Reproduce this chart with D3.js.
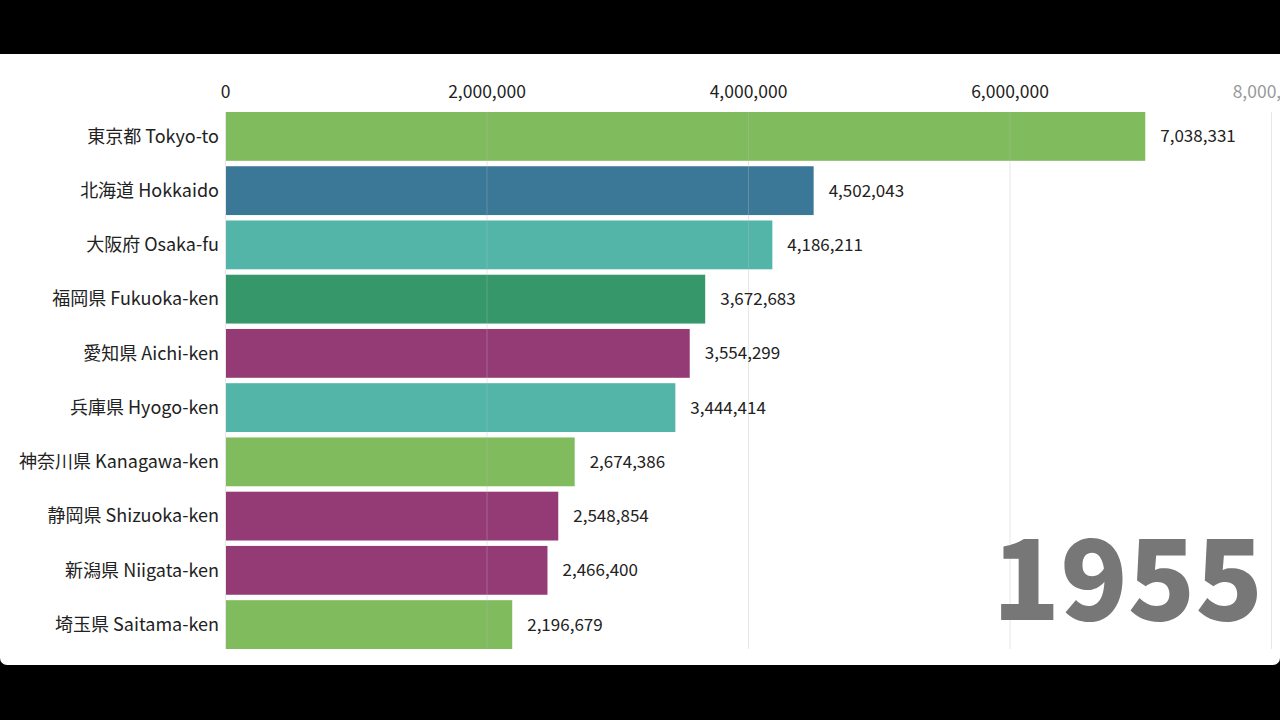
<!DOCTYPE html>
<html>
<head>
<meta charset="utf-8">
<script src="https://cdn.jsdelivr.net/npm/d3@7"></script>
<style>
  body { margin: 0; background: #000; overflow: hidden; }
  svg { display: block; }
  text { font-family: "Noto Sans CJK JP", "Noto Sans", sans-serif; }
</style>
</head>
<body>
<svg id="chart" width="1280" height="720"></svg>
<script>
// Data: prefecture population, year 1955 (top 10)
const year = "1955";
const prefectures = [
    "東京都 Tokyo-to", "北海道 Hokkaido", "大阪府 Osaka-fu", "福岡県 Fukuoka-ken",
    "愛知県 Aichi-ken", "兵庫県 Hyogo-ken", "神奈川県 Kanagawa-ken",
    "静岡県 Shizuoka-ken", "新潟県 Niigata-ken", "埼玉県 Saitama-ken"
];
const population = [7038331, 4502043, 4186211, 3672683, 3554299, 3444414, 2674386, 2548854, 2466400, 2196679];
const regions = ["Kanto", "Hokkaido", "Kinki", "Kyushu", "Chubu", "Kinki", "Kanto", "Chubu", "Chubu", "Kanto"];
const tickValues = [0, 2000000, 4000000, 6000000, 8000000];

const regionNames = ["Kanto", "Hokkaido", "Kinki", "Kyushu", "Chubu"];
const regionColors = ["#80bb5e", "#3b7797", "#53b4a8", "#36986a", "#943b75"];

const dimensions = {
    width: 1280,
    height: 720,
    card: { top: 54, bottom: 665 },
    margin: { top: 112, right: 9, bottom: 71, left: 225 }
};

const data = prefectures.map((name, i) => ({ name: name, value: population[i], region: regions[i] }));

var svg = d3.select("#chart");

// white card
svg.append("rect")
    .attr("x", 0)
    .attr("y", dimensions.card.top - 10)
    .attr("width", dimensions.width)
    .attr("height", dimensions.card.bottom - dimensions.card.top + 10)
    .attr("rx", 7)
    .attr("fill", "#fff");
svg.append("rect")
    .attr("x", 0)
    .attr("y", 0)
    .attr("width", dimensions.width)
    .attr("height", dimensions.card.top)
    .attr("fill", "#000");

var xScale = d3.scaleLinear()
    .domain([0, 8000000])
    .range([dimensions.margin.left, dimensions.width - dimensions.margin.right]);

var yScale = d3.scaleBand()
    .domain(prefectures)
    .range([dimensions.margin.top, dimensions.height - dimensions.margin.bottom])
    .paddingInner(0.1)
    .paddingOuter(0);

var colorScale = d3.scaleOrdinal()
    .domain(regionNames)
    .range(regionColors);

// bars
svg.selectAll(".bar")
    .data(data)
    .enter()
    .append("rect")
    .attr("class", "bar")
    .attr("x", xScale(0) + 1)
    .attr("y", d => yScale(d.name))
    .attr("width", d => xScale(d.value) - xScale(0) - 1)
    .attr("height", yScale.bandwidth())
    .attr("fill", d => colorScale(d.region));

// axis on top with grid lines through the bars
var axis = svg.append("g")
    .attr("transform", `translate(0, ${dimensions.margin.top})`)
    .call(d3.axisTop(xScale)
        .tickValues(tickValues)
        .tickFormat(d3.format(","))
        .tickSize(-(dimensions.height - dimensions.margin.bottom - dimensions.margin.top))
        .tickPadding(14));

axis.select(".domain").remove();
axis.selectAll(".tick line")
    .attr("stroke", "#bbb")
    .attr("stroke-opacity", 0.35);
axis.selectAll(".tick text")
    .attr("fill", d => d === 8000000 ? "#999" : "#222")
    .style("font-size", "17.5px");

// category labels
svg.selectAll(".label")
    .data(data)
    .enter()
    .append("text")
    .attr("class", "label")
    .attr("x", xScale(0) - 6)
    .attr("y", d => yScale(d.name) + yScale.bandwidth() / 2)
    .attr("dy", "0.35em")
    .attr("text-anchor", "end")
    .style("font-size", "18px")
    .style("fill", "#222")
    .text(d => d.name);

// value labels
svg.selectAll(".value")
    .data(data)
    .enter()
    .append("text")
    .attr("class", "value")
    .attr("x", d => xScale(d.value) + 15)
    .attr("y", d => yScale(d.name) + yScale.bandwidth() / 2)
    .attr("dy", "0.35em")
    .attr("text-anchor", "start")
    .style("font-size", "17px")
    .style("fill", "#222")
    .text(d => d3.format(",")(d.value));

// year
svg.append("text")
    .attr("x", 1263)
    .attr("y", 620)
    .attr("text-anchor", "end")
    .style("font-size", "111px")
    .style("font-weight", 900)
    .style("fill", "#777")
    .text(year);
</script>
</body>
</html>
